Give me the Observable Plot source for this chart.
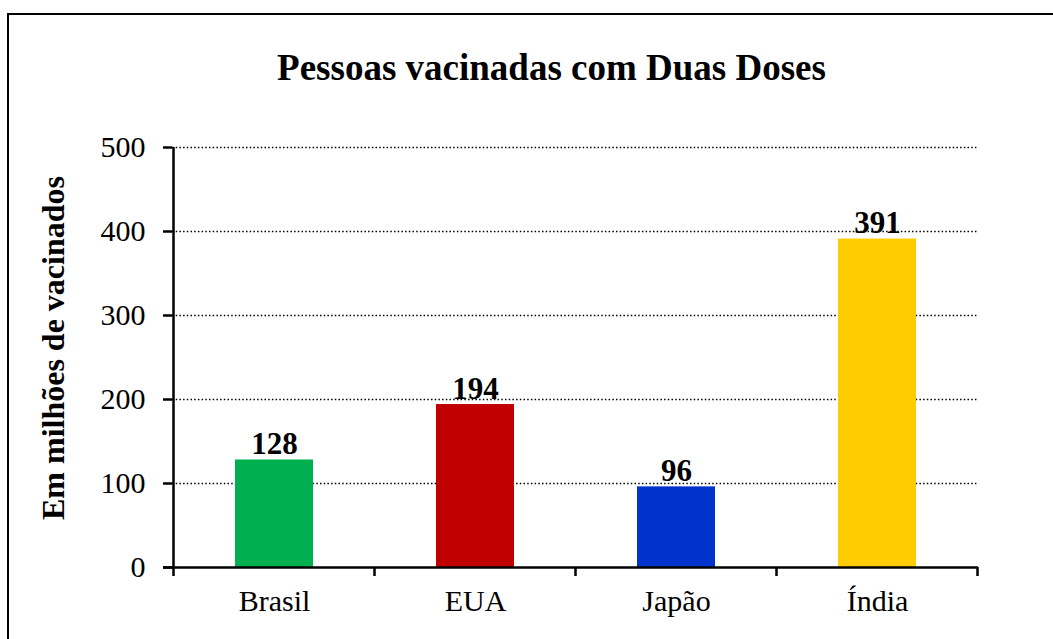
<!DOCTYPE html>
<html>
<head>
<meta charset="utf-8">
<script src="https://cdn.jsdelivr.net/npm/d3@7"></script>
<script src="https://cdn.jsdelivr.net/npm/@observablehq/plot@0.6"></script>
<style>
  html, body { margin: 0; padding: 0; background: #fff; }
  #wrap { position: relative; width: 1053px; height: 639px; overflow: hidden; font-family: 'Liberation Serif', serif; }
  #frame { position: absolute; left: 7px; top: 13px; width: 1100px; height: 700px; border: 2px solid #000; box-sizing: border-box; }
  #title { position: absolute; left: 0; width: 1103px; top: 48px; line-height: 40px; text-align: center; font-weight: bold; font-size: 37px; color: #000; font-family: 'Liberation Serif', serif; }
  #ylabel { position: absolute; left: 53px; top: 348px; width: 0; height: 0; }
  #ylabel span { position: absolute; left: 0; top: 0; transform: translate(-50%, -50%) rotate(-90deg); white-space: nowrap; font-weight: bold; font-size: 32px; line-height: 34px; color: #000; font-family: 'Liberation Serif', serif; }
  #chart { position: absolute; left: 0; top: 0; }
  #chart svg, #chart svg text { font-family: 'Liberation Serif', serif !important; }
</style>
</head>
<body>
<div id="wrap">
  <div id="frame"></div>
  <div id="chart"></div>
  <div id="title"></div>
  <div id="ylabel"><span></span></div>
</div>
<script>
const titleText = "Pessoas vacinadas com Duas Doses";
const yLabel = "Em milhões de vacinados";
const categories = ["Brasil", "EUA", "Japão", "Índia"];
const values = [128, 194, 96, 391];
const colors = ["#00B050", "#C00000", "#0033CC", "#FFCC00"];
const yTicks = [0, 100, 200, 300, 400, 500];

document.getElementById("title").textContent = titleText;
document.querySelector("#ylabel span").textContent = yLabel;

const data = categories.map((c, i) => ({cat: c, value: values[i], color: colors[i]}));

const W = 1053, H = 639;
const pi = 0.613;
const font = "'Liberation Serif', serif";

// category boundary ticks (left edge of each band step, plus the right edge of the last)
const bounds = categories.map((c, i) => ({cat: c, side: -1, first: i === 0}))
  .concat([{cat: categories[categories.length - 1], side: 1, first: false}]);

const chart = Plot.plot({
  width: W,
  height: H,
  marginLeft: 172,
  marginRight: 75,
  marginTop: 147,
  marginBottom: 72,
  style: {fontFamily: font, color: "#000", background: "transparent", overflow: "visible"},
  x: {domain: categories, paddingInner: pi, paddingOuter: pi / 2, label: null},
  y: {domain: [0, 500], label: null},
  marks: [
    Plot.gridY(yTicks.filter(d => d > 0), {stroke: "#000", strokeOpacity: 1, strokeWidth: 1.5, strokeDasharray: "1.5,2.2"}),
    Plot.barY(data, {x: "cat", y: "value", fill: "color"}),
    Plot.text(data, {x: "cat", y: "value", text: d => String(d.value), lineAnchor: "bottom", dy: -6, fontWeight: "bold", fontSize: 31, fontFamily: font, fill: "#000"}),
    Plot.axisY({ticks: yTicks, tickSize: 9, tickPadding: 18, strokeWidth: 2.5, fontSize: 30, fontFamily: font, label: null}),
    Plot.axisX({tickSize: 0, tickPadding: 22, fontSize: 30, fontFamily: font, label: null}),
    Plot.ruleY([0], {stroke: "#000", strokeWidth: 2.5, insetLeft: -9}),
    Plot.ruleX(bounds, {x: "cat", y1: 0, y2: 0, stroke: "#000", strokeWidth: 2.5,
      render: (index, scales, values, dims, ctx, next) => {
        const g = next(index, scales, values, dims, ctx);
        const step = scales.x.step(), bw = scales.x.bandwidth();
        const gap = (step - bw) / 2;
        d3.select(g).attr("transform", null);
        d3.select(g).selectAll("line").each(function(_, j) {
          const b = bounds[index[j]];
          const xs = scales.x(b.cat) + (b.side < 0 ? -gap : bw + gap);
          d3.select(this)
            .attr("x1", xs).attr("x2", xs)
            .attr("y1", b.first ? scales.y(500) : scales.y(0))
            .attr("y2", scales.y(0) + 9);
        });
        return g;
      }})
  ]
});
document.getElementById("chart").appendChild(chart);
</script>
</body>
</html>
